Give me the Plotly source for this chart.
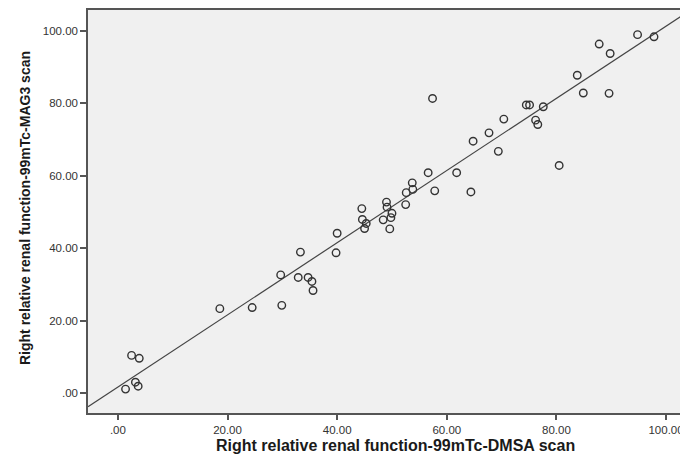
import plotly.graph_objects as go

# Right relative renal function (%)
dmsa = [94.8, 97.8, 87.8, 89.8, 83.8, 84.9, 89.6, 57.4, 74.5, 75.1, 77.6, 70.4, 76.2, 76.6,
        67.7, 64.8, 69.4, 80.5, 56.6, 61.8, 53.7, 52.6, 53.8, 57.8, 64.4, 52.5, 49.0, 49.1,
        44.5, 50.0, 49.8, 48.4, 44.6, 45.3, 45.0, 49.6, 40.0, 33.3, 39.8, 29.7, 32.9, 34.7,
        35.4, 35.6, 29.9, 18.6, 24.5, 2.5, 3.9, 3.2, 3.7, 1.4]
mag3 = [98.9, 98.3, 96.3, 93.7, 87.7, 82.8, 82.7, 81.3, 79.5, 79.5, 79.0, 75.6, 75.3, 74.1,
        71.8, 69.5, 66.7, 62.8, 60.8, 60.8, 58.0, 55.3, 56.2, 55.8, 55.5, 52.0, 52.7, 51.3,
        50.9, 49.6, 48.4, 47.8, 47.9, 46.8, 45.4, 45.3, 44.1, 38.9, 38.7, 32.6, 31.9, 31.9,
        30.8, 28.3, 24.2, 23.3, 23.6, 10.4, 9.6, 3.0, 1.9, 1.1]

fit_intercept = 1.65
fit_slope = 0.996

x_range = [-5.45, 104.0]
y_range = [-5.5, 105.7]
tick_vals = [0, 20, 40, 60, 80, 100]
tick_text = [".00", "20.00", "40.00", "60.00", "80.00", "100.00"]
x_title = "Right relative renal function-99mTc-DMSA scan"
y_title = "Right relative renal function-99mTc-MAG3 scan"

fit_x = x_range
fit_y = [fit_intercept + fit_slope * v for v in fit_x]

# page body has an 8px margin; figure sized to fit the window exactly
OFF = 8
W, H = 688 - OFF, 457 - OFF
ML, MR, MT, MB = 88 - OFF, 0, 10 - OFF, 457 - 413
PW, PH = W - ML - MR, H - MT - MB

fig = go.Figure()
fig.add_trace(go.Scatter(x=fit_x, y=fit_y, mode="lines",
                         line=dict(color="#444444", width=1.2),
                         hoverinfo="skip", showlegend=False))
fig.add_trace(go.Scatter(x=dmsa, y=mag3, mode="markers",
                         marker=dict(symbol="circle-open", size=7.5, color="#333333",
                                     line=dict(color="#333333", width=1.4)),
                         showlegend=False))

font_fam = "Liberation Sans, Arial, sans-serif"
fig.update_layout(
    width=W, height=H,
    margin=dict(l=ML, r=MR, t=MT, b=MB, autoexpand=False),
    paper_bgcolor="white",
    plot_bgcolor="#f0f0f0",
    font=dict(family=font_fam, color="#333333"),
    xaxis=dict(range=x_range, tickvals=tick_vals, ticktext=tick_text,
               showgrid=False, zeroline=False, automargin=False,
               showline=True, linecolor="#555555", linewidth=1.5, mirror=True,
               ticks="outside", ticklen=5, tickcolor="#555555", tickwidth=1.5,
               tickfont=dict(size=11.5, color="#333333")),
    yaxis=dict(range=y_range, tickvals=tick_vals, ticktext=tick_text,
               showgrid=False, zeroline=False, automargin=False,
               showline=True, linecolor="#555555", linewidth=1.5,
               ticks="outside", ticklen=6, tickcolor="#555555", tickwidth=1.5,
               tickfont=dict(size=11.5, color="#333333")),
    annotations=[
        dict(text="<b>" + x_title + "</b>", xref="paper", yref="paper",
             x=(395 - 88) / PW, y=-(445 - 413) / PH,
             xanchor="center", yanchor="middle", showarrow=False,
             font=dict(size=16, color="#1a1a1a")),
        dict(text="<b>" + y_title + "</b>", xref="paper", yref="paper",
             x=-(88 - 25) / PW, y=1 - (208 - 10) / PH,
             xanchor="center", yanchor="middle", showarrow=False, textangle=-90,
             font=dict(size=14, color="#1a1a1a")),
    ],
)

fig.write_html("out.html")
